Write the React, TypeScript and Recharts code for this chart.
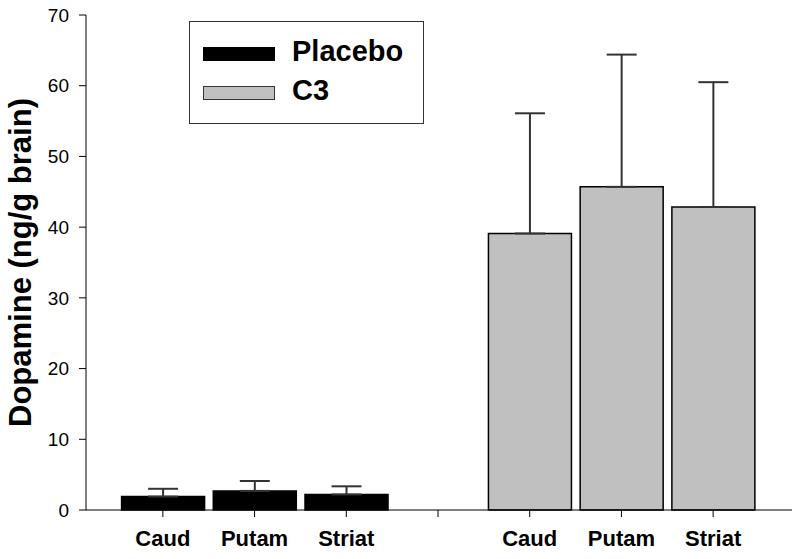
import React from 'react';
import { BarChart, Bar, XAxis, YAxis, ErrorBar, Cell } from 'recharts';

const categories = ['Caud', 'Putam', 'Striat', '', 'Caud', 'Putam', 'Striat'];
const placebo: (number | null)[] = [1.9, 2.7, 2.2, null, null, null, null];
const placeboErr: (number | null)[] = [1.1, 1.4, 1.15, null, null, null, null];
const c3: (number | null)[] = [null, null, null, null, 39.1, 45.7, 42.85];
const c3Err: (number | null)[] = [null, null, null, null, 17.0, 18.7, 17.65];
const yTicks = [0, 10, 20, 30, 40, 50, 60, 70];

const data = categories.map((name, i) => {
  const isPlacebo = placebo[i] != null;
  const value = isPlacebo ? placebo[i] : c3[i];
  const err = isPlacebo ? placeboErr[i] : c3Err[i];
  return {
    name,
    group: isPlacebo ? 'placebo' : c3[i] != null ? 'c3' : 'none',
    value,
    err: err != null ? [0, err] : null,
  };
});

const FONT = 'Arial, "Liberation Sans", Helvetica, sans-serif';

const LegendBox = () => (
  <div
    style={{
      position: 'absolute',
      left: 189,
      top: 21,
      width: 235,
      height: 103,
      border: '1.3px solid #333',
      boxSizing: 'border-box',
      background: '#fff',
      fontFamily: FONT,
      fontWeight: 'bold',
      fontSize: 29,
      color: '#000',
    }}
  >
    <div style={{ position: 'absolute', left: 13, top: 25, width: 72, height: 14, background: '#000' }} />
    <div style={{ position: 'absolute', left: 102, top: 12, lineHeight: '34px' }}>Placebo</div>
    <div style={{ position: 'absolute', left: 13, top: 64, width: 72, height: 14, background: '#c0c0c0', border: '1px solid #333', boxSizing: 'border-box' }} />
    <div style={{ position: 'absolute', left: 102, top: 51, lineHeight: '34px' }}>C3</div>
  </div>
);

export default function App() {
  return (
    <div style={{ position: 'absolute', left: 0, top: 0, width: 800, height: 559, background: '#fff' }}>
      <BarChart
        width={800}
        height={559}
        data={data}
        margin={{ top: 15, right: 8, bottom: 0, left: 0 }}
        barCategoryGap="5%"
      >
        <XAxis
          dataKey="name"
          height={49}
          padding={{ left: 31, right: 33 }}
          stroke="#000"
          tickLine={{ stroke: '#000' }}
          tickSize={7}
          tick={{ fill: '#000', fontSize: 22, fontWeight: 'bold', fontFamily: FONT }}
          tickMargin={13}
          interval={0}
        />
        <YAxis
          width={86}
          domain={[0, 70]}
          ticks={yTicks}
          stroke="#000"
          tickSize={7}
          tickMargin={10}
          tick={{ fill: '#000', fontSize: 19, fontFamily: FONT }}
          label={{
            content: (props: any) => {
              const vb = props.viewBox || { x: 0, y: 15, width: 86, height: 495 };
              const cx = 31;
              const cy = vb.y + vb.height / 2;
              return (
                <text
                  x={cx}
                  y={cy}
                  transform={`rotate(-90, ${cx}, ${cy})`}
                  textAnchor="middle"
                  fontFamily={FONT}
                  fontWeight="bold"
                  fontSize={31}
                  fill="#000"
                >
                  Dopamine (ng/g brain)
                </text>
              );
            },
          }}
        />
        <Bar dataKey="value" isAnimationActive={false}>
          {data.map((d, i) => (
            <Cell
              key={i}
              fill={d.group === 'placebo' ? '#000' : '#c0c0c0'}
              stroke="#000"
              strokeWidth={1.5}
            />
          ))}
          <ErrorBar dataKey="err" direction="y" width={15} stroke="#333" strokeWidth={2} />
        </Bar>
      </BarChart>
      <LegendBox />
    </div>
  );
}
